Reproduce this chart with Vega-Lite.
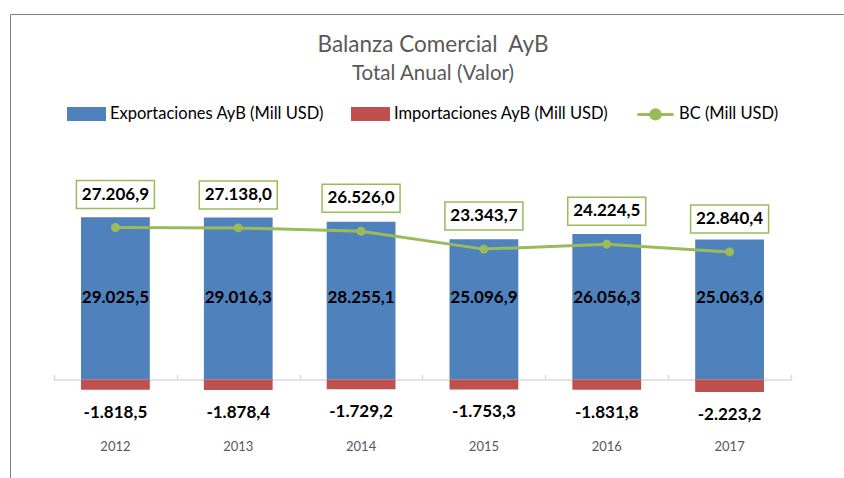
{
  "$schema": "https://vega.github.io/schema/vega-lite/v6.json",
  "width": 834,
  "height": 464,
  "autosize": {"type": "none"},
  "padding": {"left": 10, "top": 14, "right": 0, "bottom": 0},
  "background": "white",
  "title": {
    "text": "Balanza Comercial \u00a0AyB",
    "subtitle": "Total Anual (Valor)",
    "anchor": "middle",
    "frame": "group",
    "offset": -70,
    "dx": 6,
    "font": "Lato",
    "fontSize": 22.5,
    "fontWeight": "normal",
    "color": "#595959",
    "subtitleFont": "Lato",
    "subtitleFontSize": 20.5,
    "subtitleColor": "#595959",
    "subtitlePadding": 7
  },
  "data": {
    "values": [
      {"year": "2012", "exp": 29025.5, "imp": -1818.5, "bc": 27206.9},
      {"year": "2013", "exp": 29016.3, "imp": -1878.4, "bc": 27138.0},
      {"year": "2014", "exp": 28255.1, "imp": -1729.2, "bc": 26526.0},
      {"year": "2015", "exp": 25096.9, "imp": -1753.3, "bc": 23343.7},
      {"year": "2016", "exp": 26056.3, "imp": -1831.8, "bc": 24224.5},
      {"year": "2017", "exp": 25063.6, "imp": -2223.2, "bc": 22840.4}
    ]
  },
  "config": {
    "locale": {"number": {"decimal": ",", "thousands": ".", "grouping": [3], "currency": ["", ""], "minus": "-"}},
    "view": {"stroke": "#7f7f7f", "strokeWidth": 1},
    "font": "Lato"
  },
  "resolve": {"axis": {"x": "independent"}},
  "layer": [
    {
      "mark": {"type": "bar", "width": {"band": 0.56}},
      "encoding": {
        "x": {
          "field": "year", "type": "nominal",
          "scale": {"range": [44, 781], "paddingInner": 0, "paddingOuter": 0},
          "axis": {"orient": "top", "offset": -365.5, "labels": false, "title": null, "domainColor": "#d9d9d9", "domainWidth": 1.5, "tickColor": "#d9d9d9", "tickWidth": 1.5, "tickSize": 5, "tickBand": "extent"}
        },
        "y": {"field": "exp", "type": "quantitative", "scale": {"domain": [-17600, 65400], "nice": false, "zero": false}, "axis": null},
        "color": {
          "datum": "Exportaciones AyB (Mill USD)",
          "scale": {"domain": ["Exportaciones AyB (Mill USD)", "Importaciones AyB (Mill USD)", "BC (Mill USD)"], "range": ["#4F81BD", "#C0504D", "#9BBB59"]},
          "legend": {
            "orient": "none", "legendX": 57, "legendY": 80, "direction": "horizontal", "title": null,
            "padding": 0, "symbolSize": 1296, "symbolType": "M-1,-0.31H1V0.31H-1Z",
            "labelFont": "Lato", "labelFontSize": 16.5, "labelColor": "#000000", "labelOffset": 4, "labelLimit": 0, "columnPadding": 22,
            "encode": {
              "symbols": {
                "update": {
                  "shape": [{"test": "datum.value === 'BC (Mill USD)'", "value": "M-1,0H1M-0.26,0A0.26,0.26 0 1,0 0.26,0A0.26,0.26 0 1,0 -0.26,0"}, {"value": "M-1,-0.31H1V0.31H-1Z"}],
                  "fill": {"scale": "color", "field": "value"},
                  "stroke": [{"test": "datum.value === 'BC (Mill USD)'", "value": "#9BBB59"}, {"value": "transparent"}],
                  "strokeWidth": {"value": 3},
                  "opacity": {"value": 1}
                }
              }
            }
          }
        }
      }
    },
    {
      "mark": {"type": "bar", "width": {"band": 0.56}},
      "encoding": {
        "x": {
          "field": "year", "type": "nominal",
          "axis": {"orient": "bottom", "offset": -38, "domain": false, "ticks": false, "labelPadding": 0, "title": null, "labelColor": "#595959", "labelFontSize": 13, "labelFont": "Lato", "labelAngle": 0}
        },
        "y": {"field": "imp", "type": "quantitative"},
        "color": {"datum": "Importaciones AyB (Mill USD)"}
      }
    },
    {
      "mark": {"type": "line", "strokeWidth": 3, "point": {"filled": true, "size": 80}},
      "encoding": {
        "x": {"field": "year", "type": "nominal", "axis": null},
        "y": {"field": "bc", "type": "quantitative"},
        "color": {"datum": "BC (Mill USD)"}
      }
    },
    {
      "mark": {"type": "point", "shape": "M-1,-1.205H1V-0.487H-1Z", "filled": true, "fill": "#ffffff", "stroke": "#9BBB59", "strokeWidth": 1.5, "size": 6084, "opacity": 1},
      "encoding": {
        "x": {"field": "year", "type": "nominal", "axis": null},
        "y": {"field": "bc", "type": "quantitative"}
      }
    },
    {
      "mark": {"type": "text", "font": "Lato", "fontSize": 17, "fontWeight": "bold", "color": "#000000", "dy": -33, "baseline": "middle"},
      "encoding": {
        "x": {"field": "year", "type": "nominal", "axis": null},
        "y": {"field": "bc", "type": "quantitative"},
        "text": {"field": "bc", "type": "quantitative", "format": ",.1f"}
      }
    },
    {
      "mark": {"type": "text", "font": "Lato", "fontSize": 17, "fontWeight": "bold", "color": "#000000", "baseline": "middle"},
      "encoding": {
        "x": {"field": "year", "type": "nominal", "axis": null},
        "y": {"datum": 14600, "type": "quantitative"},
        "text": {"field": "exp", "type": "quantitative", "format": ",.1f"}
      }
    },
    {
      "mark": {"type": "text", "font": "Lato", "fontSize": 17, "fontWeight": "bold", "color": "#000000", "dy": 23, "baseline": "middle"},
      "encoding": {
        "x": {"field": "year", "type": "nominal", "axis": null},
        "y": {"field": "imp", "type": "quantitative"},
        "text": {"field": "imp", "type": "quantitative", "format": ",.1f"}
      }
    }
  ]
}
